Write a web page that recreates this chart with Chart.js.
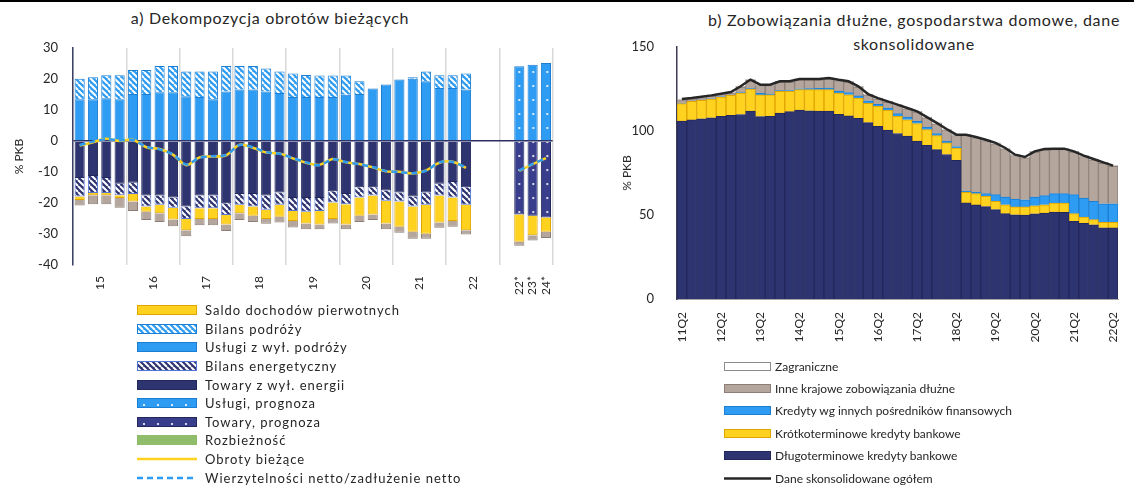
<!DOCTYPE html>
<html lang="pl">
<head>
<meta charset="utf-8">
<title>Obroty bieżące i zobowiązania dłużne gospodarstw domowych</title>
<script src="https://cdn.jsdelivr.net/npm/chart.js@4.4.1/dist/chart.umd.min.js"></script>
<style>
  body { margin: 0; background: #fff; }
  #page { position: relative; width: 1134px; height: 487px; overflow: hidden; font-family: Lato, 'Open Sans', sans-serif; color: #262626; }
  #topline { position: absolute; left: 0; top: 0; width: 1134px; height: 2px; background: #000; }
  canvas.chart { position: absolute; top: 0; }
  #chartA { left: 0; }
  #chartB { left: 600px; }
  .title { position: absolute; text-align: center; font-size: 16px; line-height: 24px; letter-spacing: 0.7px; }
  #titleA { left: 0; width: 540px; top: 6px; }
  #titleB { left: 694px; width: 440px; top: 8px; }
  .legend { position: absolute; }
  .legend .row { display: flex; align-items: center; white-space: nowrap; }
  #legendA { left: 137px; top: 301px; font-size: 13px; letter-spacing: 1px; }
  #legendA .row { height: 18.6px; }
  #legendA canvas { margin-right: 8px; }
  #legendB { left: 724px; top: 355px; font-size: 12px; }
  #legendB .row { height: 22.4px; }
  #legendB canvas { margin-right: 4px; }
</style>
</head>
<body>
<div id="page">
  <div id="topline"></div>
  <div class="title" id="titleA">a) Dekompozycja obrotów bieżących</div>
  <div class="title" id="titleB">b) Zobowiązania dłużne, gospodarstwa domowe, dane<br>skonsolidowane</div>
  <canvas class="chart" id="chartA" width="570" height="300"></canvas>
  <canvas class="chart" id="chartB" width="534" height="350"></canvas>
  <div class="legend" id="legendA"></div>
  <div class="legend" id="legendB"></div>
</div>
<script>
// ---- panel a) quarters 2015Q1-2022Q2, gap, forecast 2022-2024
const quartersA = [
  '15Q1', '15Q2', '15Q3', '15Q4', '16Q1', '16Q2', '16Q3', '16Q4',
  '17Q1', '17Q2', '17Q3', '17Q4', '18Q1', '18Q2', '18Q3', '18Q4',
  '19Q1', '19Q2', '19Q3', '19Q4', '20Q1', '20Q2', '20Q3', '20Q4',
  '21Q1', '21Q2', '21Q3', '21Q4', '22Q1', '22Q2', '22Q3', '22Q4',
  '', '22*', '23*', '24*'
];
// label positions in bar slots (year centres, then the forecast bars)
const tickPosA = [2, 6, 10, 14, 18, 22, 26, 30, 33.5, 34.5, 35.5];
const tickLabelsA = ['15', '16', '17', '18', '19', '20', '21', '22', '22*', '23*', '24*'];

const uslugi = [13.5, 13.5, 13.8, 13.5, 15.2, 15.2, 15.7, 15.7, 14.4, 14.2, 13.5, 16.0, 16.6, 16.6, 16.0, 15.5,
  14.2, 14.2, 14.2, 14.2, 14.9, 15.2, 16.9, 18.2, 19.8, 20.1, 19.3, 17.1, 17.1, 16.6, null, null, null, null, null, null];
const bilansPodrozy = [6.6, 7.1, 7.4, 7.7, 7.7, 7.7, 8.5, 8.5, 8.0, 8.2, 8.9, 8.2, 7.6, 7.6, 7.4, 6.9,
  7.6, 7.1, 6.9, 6.9, 6.2, 4.1, 0, 0, 0, 0.5, 3.1, 4.1, 4.1, 5.2, null, null, null, null, null, null];
const uslugiProg = [null, null, null, null, null, null, null, null, null, null, null, null, null, null, null, null,
  null, null, null, null, null, null, null, null, null, null, null, null, null, null, null, null, null, 24.1, 24.6, 25.2];
const towary = [-11.9, -11.3, -11.9, -13.8, -13.5, -17.6, -17.6, -18.2, -21.1, -17.6, -17.6, -20.1, -17.1, -17.1, -17.6, -16.6,
  -18.4, -18.4, -18.4, -16.2, -17.1, -14.9, -14.9, -16.0, -16.6, -17.9, -16.6, -13.8, -13.2, -14.9, null, null, null, null, null, null];
const towaryProg = [null, null, null, null, null, null, null, null, null, null, null, null, null, null, null, null,
  null, null, null, null, null, null, null, null, null, null, null, null, null, null, null, null, null, -23.7, -24.1, -24.7];
const bilansEnerg = [-6.0, -5.5, -4.9, -3.7, -3.6, -3.5, -3.0, -3.3, -4.1, -4.1, -4.1, -3.8, -3.5, -4.0, -4.6, -4.0,
  -4.2, -4.4, -4.2, -3.6, -3.3, -3.3, -2.7, -3.3, -2.9, -3.2, -4.0, -3.8, -5.0, -5.7, null, null, null, null, null, null];
const saldoPierwotnych = [-1.1, -0.7, -0.7, -0.9, -2.4, -1.7, -2.7, -3.8, -3.6, -3.5, -3.5, -3.0, -2.7, -3.0, -3.0, -3.8,
  -3.2, -3.8, -4.3, -5.4, -6.5, -5.9, -6.1, -7.3, -8.2, -8.2, -9.3, -8.7, -7.6, -8.2, null, null, null, -8.8, -6.3, -4.6];
const saldoWtornych = [-1.8, -2.9, -2.9, -3.1, -3.1, -2.7, -2.8, -2.2, -1.9, -2.0, -2.0, -2.1, -2.2, -2.0, -1.5, -1.9,
  -2.1, -1.9, -1.6, -1.4, -1.6, -2.0, -1.8, -1.9, -1.9, -2.2, -1.6, -1.7, -1.9, -1.4, null, null, null, -1.3, -1.7, -2.0];
const rozbieznosc = [];
const obroty = [-1.5, -0.4, 0.7, 0.0, 0.4, -2.0, -2.6, -4.4, -7.8, -5.3, -5.0, -4.6, -1.2, -2.2, -3.7, -4.0,
  -5.6, -7.0, -7.7, -5.8, -6.9, -7.4, -8.5, -9.8, -9.9, -10.5, -9.5, -7.0, -6.7, -8.7, null, null, null, -9.6, -7.5, -5.5];
const wierzytelnosci = [-1.3, -0.2, 0.6, 0.2, 0.3, -1.9, -2.7, -4.3, -7.6, -5.4, -4.9, -4.5, -1.3, -2.0, -3.6, -4.1,
  -5.5, -6.9, -7.8, -5.9, -6.8, -7.5, -8.4, -9.7, -10.0, -10.4, -9.6, -6.9, -6.8, -8.6, null, null, null, -9.5, -7.4, -5.6];

// ---- panel b) quarters 2011Q2-2022Q2, % PKB
const quartersB = [
  '11Q2', '11Q3', '11Q4', '12Q1', '12Q2', '12Q3', '12Q4', '13Q1', '13Q2', '13Q3', '13Q4', '14Q1',
  '14Q2', '14Q3', '14Q4', '15Q1', '15Q2', '15Q3', '15Q4', '16Q1', '16Q2', '16Q3', '16Q4', '17Q1',
  '17Q2', '17Q3', '17Q4', '18Q1', '18Q2', '18Q3', '18Q4', '19Q1', '19Q2', '19Q3', '19Q4', '20Q1',
  '20Q2', '20Q3', '20Q4', '21Q1', '21Q2', '21Q3', '21Q4', '22Q1', '22Q2'
];
const dlugoterminowe = [105.9, 106.6, 107.3, 107.9, 108.7, 109.4, 109.8, 111.9, 108.6, 108.8, 110.6, 111.5,
  112.5, 112.0, 111.9, 111.8, 109.9, 109.0, 107.5, 105.0, 102.8, 100.6, 98.5, 97.0, 94.0, 91.4, 88.9, 86.0,
  82.6, 57.2, 56.0, 55.0, 53.2, 50.8, 50.1, 50.0, 50.7, 51.2, 51.8, 51.6, 46.3, 45.1, 44.2, 42.4, 42.3];
const krotkoterminowe = [10.4, 11.0, 10.9, 11.1, 11.5, 11.8, 12.8, 13.1, 13.0, 12.8, 13.0, 12.1,
  12.1, 12.6, 12.7, 12.8, 12.7, 12.6, 12.1, 11.4, 11.9, 11.7, 10.2, 9.7, 10.4, 9.4, 8.3, 6.9,
  7.3, 6.3, 6.7, 6.1, 4.9, 5.3, 4.7, 4.8, 4.8, 4.9, 5.3, 5.5, 4.5, 3.7, 3.0, 3.2, 3.3];
const kredytyInne = [0.2, 0.2, 0.2, 0.2, 0.2, 0.2, 0.2, 0.2, 0.8, 0.4, 0.4, 0.5,
  0.5, 0.6, 0.8, 1.0, 1.1, 1.2, 1.3, 1.6, 1.2, 1.4, 1.6, 1.6, 1.3, 1.6, 1.2, 0.9,
  0.9, 0.6, 0.8, 1.6, 4.0, 4.6, 4.7, 4.3, 5.2, 5.4, 5.6, 5.6, 11.3, 11.3, 10.9, 11.1, 11.1];
const inneKrajowe = [2.0, 1.3, 1.5, 1.5, 1.3, 1.3, 3.3, 4.9, 4.7, 5.1, 5.1, 5.0,
  5.4, 5.3, 5.1, 5.5, 6.3, 6.3, 5.2, 3.5, 3.2, 3.4, 4.9, 4.9, 5.5, 5.4, 5.9, 6.9,
  6.5, 33.2, 32.4, 31.6, 30.3, 28.7, 25.9, 24.9, 26.7, 27.3, 26.3, 26.3, 25.3, 24.7, 24.7, 24.1, 22.2];
const zagraniczne = [0.5, 0.5, 0.5, 0.5, 0.5, 0.5, 0.5, 0.5, 0.5, 0.5, 0.5, 0.5,
  0.5, 0.5, 0.5, 0.5, 0.5, 0.5, 0.5, 0.5, 0.5, 0.5, 0.5, 0.5, 0.5, 0.5, 0.5, 0.5,
  0.5, 0.5, 0.5, 0.5, 0.5, 0.5, 0.5, 0.5, 0.5, 0.5, 0.5, 0.5, 0.5, 0.5, 0.5, 0.5, 0.5];
const ogolem = [119.0, 119.6, 120.4, 121.2, 122.2, 123.2, 126.6, 130.6, 127.6, 127.6, 129.6, 129.6,
  131.0, 131.0, 131.0, 131.6, 130.5, 129.6, 126.6, 122.0, 119.6, 117.6, 115.7, 113.7, 111.7, 108.3, 104.8, 101.2,
  97.8, 97.8, 96.4, 94.8, 92.9, 89.9, 85.9, 84.5, 87.9, 89.3, 89.5, 89.5, 87.9, 85.3, 83.3, 81.3, 79.4];

// ---- colours
const NAVY = '#2e3470', NAVY_EDGE = '#23285c';
const BLUE = '#2e9cf2', BLUE_EDGE = '#1b7ed3';
const YELLOW = '#ffd21f', YELLOW_EDGE = '#e0a500';
const GREY = '#b4a69d', GREY_EDGE = '#8c7e76';
const GREEN = '#8fbd69';
const TXT = '#262626';

Chart.defaults.font.family = "Lato, 'Open Sans', sans-serif";
Chart.defaults.color = TXT;

function makeHatch(ctx, bg) {
  const c = document.createElement('canvas');
  c.width = 6; c.height = 6;
  const g = c.getContext('2d');
  g.fillStyle = bg; g.fillRect(0, 0, 6, 6);
  g.strokeStyle = '#fff'; g.lineWidth = 2;
  g.beginPath();
  [-6, 0, 6].forEach(k => { g.moveTo(k, 0); g.lineTo(k + 6, 6); });
  g.stroke();
  return ctx.createPattern(c, 'repeat');
}

function makeDots(ctx, bg) {
  const c = document.createElement('canvas');
  c.width = 14; c.height = 14;
  const g = c.getContext('2d');
  g.fillStyle = bg; g.fillRect(0, 0, 14, 14);
  g.fillStyle = '#fff';
  g.beginPath(); g.arc(7, 7, 1.1, 0, Math.PI * 2); g.fill();
  return ctx.createPattern(c, 'repeat');
}

function fillOf(ctx, st) {
  if (st.kind === 'hatch') return makeHatch(ctx, st.bg);
  if (st.kind === 'dots') return makeDots(ctx, st.bg);
  return st.bg;
}

const styleA = {
  'Saldo dochodów pierwotnych': { bg: YELLOW, edge: YELLOW_EDGE },
  'Bilans podróży': { kind: 'hatch', bg: BLUE, edge: BLUE_EDGE },
  'Usługi z wył. podróży': { bg: BLUE, edge: BLUE_EDGE },
  'Bilans energetyczny': { kind: 'hatch', bg: NAVY, edge: '#5575d6' },
  'Towary z wył. energii': { bg: NAVY, edge: NAVY_EDGE },
  'Usługi, prognoza': { kind: 'dots', bg: BLUE, edge: BLUE_EDGE },
  'Towary, prognoza': { kind: 'dots', bg: '#393e8c', edge: NAVY_EDGE },
  'Rozbieżność': { bg: GREEN, edge: GREEN },
  'Saldo dochodów wtórnych': { bg: GREY, edge: GREY_EDGE },
  'Obroty bieżące': { line: true, color: YELLOW },
  'Wierzytelności netto/zadłużenie netto': { line: true, color: BLUE, dash: [6, 4] }
};
const legendOrderA = ['Saldo dochodów pierwotnych', 'Bilans podróży', 'Usługi z wył. podróży', 'Bilans energetyczny',
  'Towary z wył. energii', 'Usługi, prognoza', 'Towary, prognoza', 'Rozbieżność', 'Obroty bieżące',
  'Wierzytelności netto/zadłużenie netto'];

const styleB = {
  'Zagraniczne': { bg: '#ffffff', edge: '#8c8c8c' },
  'Inne krajowe zobowiązania dłużne': { bg: GREY, edge: GREY_EDGE },
  'Kredyty wg innych pośredników finansowych': { bg: BLUE, edge: BLUE_EDGE },
  'Krótkoterminowe kredyty bankowe': { bg: YELLOW, edge: YELLOW_EDGE },
  'Długoterminowe kredyty bankowe': { bg: NAVY, edge: NAVY_EDGE },
  'Dane skonsolidowane ogółem': { line: true, color: '#262626' }
};
const legendOrderB = Object.keys(styleB);

// ---- panel a)
const canvasA = document.getElementById('chartA');
const ctxA = canvasA.getContext('2d');
const patA = {};

// a half-slot category axis carries the tick labels (2 label slots per bar)
const halfSlotLabels = new Array(quartersA.length * 2 + 1).fill('');
tickPosA.forEach((p, i) => { halfSlotLabels[p * 2] = tickLabelsA[i]; });

function barA(label, data) {
  const st = styleA[label];
  const fill = fillOf(ctxA, st);
  if (st.kind === 'dots') patA[label] = fill;
  return { label, data, backgroundColor: fill, borderColor: st.edge, borderWidth: 1, stack: 'cab' };
}
function lineA(label, data, order) {
  const st = styleA[label];
  return { type: 'line', label, data, borderColor: st.color, borderWidth: 2.5, borderDash: st.dash || [],
    pointRadius: 0, tension: 0.3, stack: label, order };
}

// keep the dotted forecast patterns aligned with the forecast bars
const alignDots = {
  id: 'alignDots',
  beforeDatasetsDraw(chart) {
    const x0 = chart.scales.x.getPixelForValue(33);
    const y0 = chart.scales.y.getPixelForValue(0);
    Object.values(patA).forEach(p => p.setTransform(new DOMMatrix([1, 0, 0, 1, x0 - 7, y0 - 20])));
  }
};

new Chart(canvasA, {
  type: 'bar',
  data: {
    labels: quartersA,
    datasets: [
      lineA('Wierzytelności netto/zadłużenie netto', wierzytelnosci, -2),
      lineA('Obroty bieżące', obroty, -1),
      barA('Usługi z wył. podróży', uslugi),
      barA('Bilans podróży', bilansPodrozy),
      barA('Usługi, prognoza', uslugiProg),
      barA('Towary z wył. energii', towary),
      barA('Towary, prognoza', towaryProg),
      barA('Bilans energetyczny', bilansEnerg),
      barA('Saldo dochodów pierwotnych', saldoPierwotnych),
      barA('Saldo dochodów wtórnych', saldoWtornych),
      barA('Rozbieżność', rozbieznosc)
    ]
  },
  options: {
    responsive: false,
    animation: false,
    devicePixelRatio: 1,
    events: [],
    categoryPercentage: 1,
    barPercentage: 0.76,
    layout: { padding: { top: 48, right: 7, left: 0, bottom: 0 } },
    plugins: { legend: { display: false }, tooltip: { enabled: false } },
    scales: {
      x: {
        stacked: true,
        offset: true,
        ticks: { display: false },
        grid: {
          offset: true,
          drawTicks: false,
          lineWidth: 1.5,
          color: c => (c.type === 'scale' || c.index % 4 === 0) ? '#d9d9d9' : 'rgba(0,0,0,0)'
        },
        border: { display: false },
        afterFit: s => { s.height = 0; }
      },
      xl: {
        type: 'category',
        position: 'bottom',
        labels: halfSlotLabels,
        offset: false,
        ticks: {
          autoSkip: false,
          minRotation: 90,
          maxRotation: 90,
          padding: 3,
          font: { size: 12 }
        },
        grid: { display: false, offset: false },
        border: { display: false },
        afterFit: s => { s.height = 35; }
      },
      y: {
        stacked: true,
        min: -40,
        max: 30,
        ticks: { stepSize: 10, padding: 15, font: { size: 13 } },
        grid: {
          drawTicks: false,
          lineWidth: 1.5,
          color: c => (c.tick && c.tick.value === 0) ? '#2b2f66' : 'rgba(0,0,0,0)'
        },
        border: { display: true, color: '#3d4166', width: 1.5 },
        title: { display: true, text: '% PKB', font: { size: 12 }, padding: { top: 12, bottom: 0 } },
        afterFit: s => { s.width = 73; }
      }
    }
  },
  plugins: [alignDots]
});

// ---- panel b)
const canvasB = document.getElementById('chartB');
function barB(label, data) {
  const st = styleB[label];
  return { label, data, backgroundColor: st.bg, borderColor: st.edge, borderWidth: 1, stack: 'debt' };
}

new Chart(canvasB, {
  type: 'bar',
  data: {
    labels: quartersB,
    datasets: [
      { type: 'line', label: 'Dane skonsolidowane ogółem', data: ogolem, borderColor: '#262626', borderWidth: 2.5,
        pointRadius: 0, tension: 0, stack: 'total', order: -1 },
      barB('Długoterminowe kredyty bankowe', dlugoterminowe),
      barB('Krótkoterminowe kredyty bankowe', krotkoterminowe),
      barB('Kredyty wg innych pośredników finansowych', kredytyInne),
      barB('Inne krajowe zobowiązania dłużne', inneKrajowe),
      barB('Zagraniczne', zagraniczne)
    ]
  },
  options: {
    responsive: false,
    animation: false,
    devicePixelRatio: 1,
    events: [],
    categoryPercentage: 1,
    barPercentage: 1,
    layout: { padding: { top: 47, right: 16, left: 0, bottom: 0 } },
    plugins: { legend: { display: false }, tooltip: { enabled: false } },
    scales: {
      x: {
        stacked: true,
        ticks: {
          autoSkip: false,
          minRotation: 90,
          maxRotation: 90,
          padding: 5,
          font: { size: 12 },
          callback: (v, i) => (i % 4 === 0 ? quartersB[i] : '')
        },
        grid: { display: false },
        border: { display: true, color: '#a6a6a6', width: 1 },
        afterFit: s => { s.height = 51; }
      },
      y: {
        stacked: true,
        min: 0,
        max: 150,
        ticks: { stepSize: 50, padding: 15, font: { size: 13 } },
        grid: { display: false },
        border: { display: true, color: '#3d3d55', width: 1.5 },
        title: { display: true, text: '% PKB', font: { size: 12 }, padding: { top: 20, bottom: 0 } },
        afterFit: s => { s.width = 77; }
      }
    }
  }
});

// ---- legends (one entry per row, as in the source figure)
function buildLegend(el, order, styles, sw, sh) {
  order.forEach(label => {
    const st = styles[label];
    const row = document.createElement('div');
    row.className = 'row';
    const c = document.createElement('canvas');
    c.width = sw; c.height = sh;
    const g = c.getContext('2d');
    if (st.line) {
      g.strokeStyle = st.color;
      g.lineWidth = 2.5;
      g.setLineDash(st.dash || []);
      g.beginPath(); g.moveTo(0, sh / 2); g.lineTo(sw, sh / 2); g.stroke();
    } else {
      g.fillStyle = fillOf(g, st);
      g.fillRect(0, 0, sw, sh);
      g.strokeStyle = st.edge;
      g.lineWidth = 1;
      g.strokeRect(0.5, 0.5, sw - 1, sh - 1);
    }
    const span = document.createElement('span');
    span.textContent = label;
    row.append(c, span);
    el.append(row);
  });
}
buildLegend(document.getElementById('legendA'), legendOrderA, styleA, 60, 10);
buildLegend(document.getElementById('legendB'), legendOrderB, styleB, 47, 9);
</script>
</body>
</html>
